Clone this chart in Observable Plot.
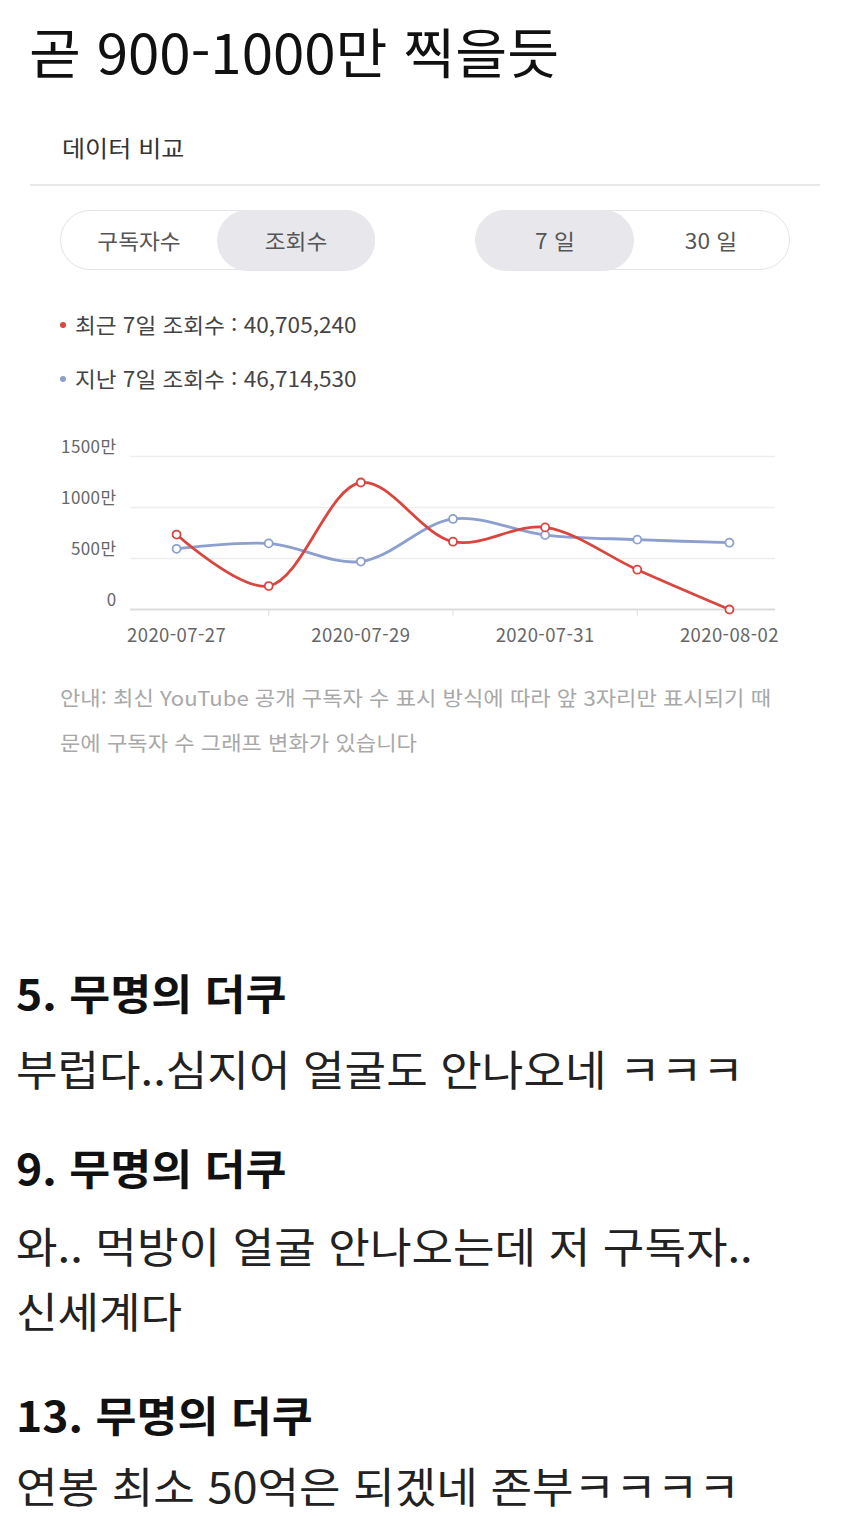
<!DOCTYPE html>
<html lang="ko">
<head>
<meta charset="utf-8">
<script src="https://cdn.jsdelivr.net/npm/d3@7"></script>
<script src="https://cdn.jsdelivr.net/npm/@observablehq/plot@0.6"></script>
<style>
  html, body { margin: 0; padding: 0; background: #fff; }
  body { width: 850px; height: 1516px; position: relative; overflow: hidden;
         font-family: "Noto Sans CJK KR", "Noto Sans", Roboto, sans-serif; }
  .abs { position: absolute; white-space: nowrap; }
  .sx { transform-origin: 0 50%; }
  .title { left: 29px; top: 23px; font-size: 54px; line-height: 56px; color: #111; transform: scaleX(1.045); }
  .sub { left: 62px; top: 134px; font-size: 23px; line-height: 26px; color: #333; transform: scaleX(1.09); }
  .hr { left: 30px; top: 184px; width: 790px; height: 2px; background: #e8e8e8; }
  .pill { top: 210px; width: 313px; height: 58px; border: 1.5px solid #e4e4e6; border-radius: 31px; }
  .sel { top: 210px; width: 158px; height: 61px; background: #e8e8ec; border-radius: 31px; }
  .tab { top: 226px; width: 158px; text-align: center; font-size: 21px; line-height: 28px; color: #555;
         transform: scaleX(1.08); transform-origin: 50% 50%; }
  .leg { left: 75px; font-size: 21px; line-height: 26px; color: #444; transform: scaleX(1.075); }
  .dot { width: 6px; height: 6px; border-radius: 3px; }
  .cap { left: 60px; font-size: 20.5px; line-height: 26px; color: #a8a8a8; transform: scaleX(1.08); }
  .h { left: 16px; font-size: 42px; line-height: 46px; font-weight: 700; color: #111; transform: scaleX(1.06); }
  .t { left: 16px; font-size: 42px; line-height: 46px; color: #222; transform: scaleX(1.075); }
  #chart { position: absolute; left: 0; top: 420px; }
  #chart svg text { letter-spacing: 0.4px; }
</style>
</head>
<body>
<div class="abs sx title">곧 900-1000만 찍을듯</div>
<div class="abs sx sub">데이터 비교</div>
<div class="abs hr"></div>

<div class="abs pill" style="left:60px"></div>
<div class="abs sel" style="left:217px"></div>
<div class="abs tab" style="left:60px">구독자수</div>
<div class="abs tab" style="left:217px">조회수</div>

<div class="abs pill" style="left:475px"></div>
<div class="abs sel" style="left:476px"></div>
<div class="abs tab" style="left:476px">7 일</div>
<div class="abs tab" style="left:632px">30 일</div>

<div class="abs dot" style="left:60px; top:322px; background:#d9463f"></div>
<div class="abs sx leg" style="top:311px">최근 7일 조회수 : 40,705,240</div>
<div class="abs dot" style="left:60px; top:376px; background:#8d9fcf"></div>
<div class="abs sx leg" style="top:365px">지난 7일 조회수 : 46,714,530</div>

<div id="chart"></div>

<div class="abs sx cap" style="top:684px">안내: 최신 YouTube 공개 구독자 수 표시 방식에 따라 앞 3자리만 표시되기 때</div>
<div class="abs sx cap" style="top:729px">문에 구독자 수 그래프 변화가 있습니다</div>

<div class="abs sx h" style="top:969px">5. 무명의 더쿠</div>
<div class="abs sx t" style="top:1045px">부럽다..심지어 얼굴도 안나오네 ㅋㅋㅋ</div>
<div class="abs sx h" style="top:1144px">9. 무명의 더쿠</div>
<div class="abs sx t" style="top:1222px">와.. 먹방이 얼굴 안나오는데 저 구독자..</div>
<div class="abs sx t" style="top:1287px">신세계다</div>
<div class="abs sx h" style="top:1391px">13. 무명의 더쿠</div>
<div class="abs sx t" style="top:1464px; line-height:42px">연봉 최소 50억은 되겠네 존부ㅋㅋㅋㅋ</div>

<script>
// ---- data ----
const dates = ["2020-07-27", "2020-07-28", "2020-07-29", "2020-07-30", "2020-07-31", "2020-08-01", "2020-08-02"];
const recentViews = [7350000, 2300000, 12450000, 6650000, 8050000, 3900000, 0];   // 최근 7일
const priorViews  = [5950000, 6480000, 4700000, 8880000, 7300000, 6850000, 6550000]; // 지난 7일
const seriesNames = ["지난 7일", "최근 7일"];
const seriesColors = ["#8d9fcf", "#d9463f"];
const yTicks = [0, 5000000, 10000000, 15000000];
const labelDates = ["2020-07-27", "2020-07-29", "2020-07-31", "2020-08-02"];
const tickDates = ["2020-07-28", "2020-07-30", "2020-08-01"];

const parse = d3.utcParse("%Y-%m-%d");
const rows = [];
dates.forEach((d, i) => {
  rows.push({date: parse(d), value: priorViews[i], series: seriesNames[0]});
});
dates.forEach((d, i) => {
  rows.push({date: parse(d), value: recentViews[i], series: seriesNames[1]});
});

const fmtY = v => v === 0 ? "0" : (v / 10000) + "만";

const chart = Plot.plot({
  width: 850,
  height: 240,
  marginLeft: 130,
  marginRight: 75,
  marginTop: 36,
  marginBottom: 51,
  style: {background: "transparent", fontFamily: "'Noto Sans CJK KR', Roboto, sans-serif", color: "#666"},
  x: {type: "utc", domain: [new Date(Date.UTC(2020, 6, 26, 12)), new Date(Date.UTC(2020, 7, 2, 12))], label: null},
  y: {domain: [0, 15000000], label: null},
  color: {domain: seriesNames, range: seriesColors},
  marks: [
    Plot.ruleY(yTicks.filter(v => v > 0), {stroke: "#eeeeee", strokeWidth: 1.5}),
    Plot.ruleY([0], {stroke: "#dcdcdc", strokeWidth: 2}),
    Plot.axisY({ticks: yTicks, tickSize: 0, tickPadding: 14, dy: -9, tickFormat: fmtY, fontSize: 17, fill: "#666", label: null}),
    Plot.axisX({ticks: labelDates.map(parse), tickSize: 0, tickPadding: 19, tickFormat: d3.utcFormat("%Y-%m-%d"), fontSize: 18.5, fill: "#666", label: null}),
    Plot.axisX({ticks: tickDates.map(parse), tickSize: 7, tickFormat: () => "", stroke: "#dedede", label: null}),
    Plot.line(rows, {x: "date", y: "value", z: "series", stroke: "series", strokeWidth: 2.8, curve: "catmull-rom"}),
    Plot.dot(rows, {x: "date", y: "value", stroke: "series", fill: "white", r: 4, strokeWidth: 1.8})
  ]
});
document.getElementById("chart").appendChild(chart);
</script>
</body>
</html>
